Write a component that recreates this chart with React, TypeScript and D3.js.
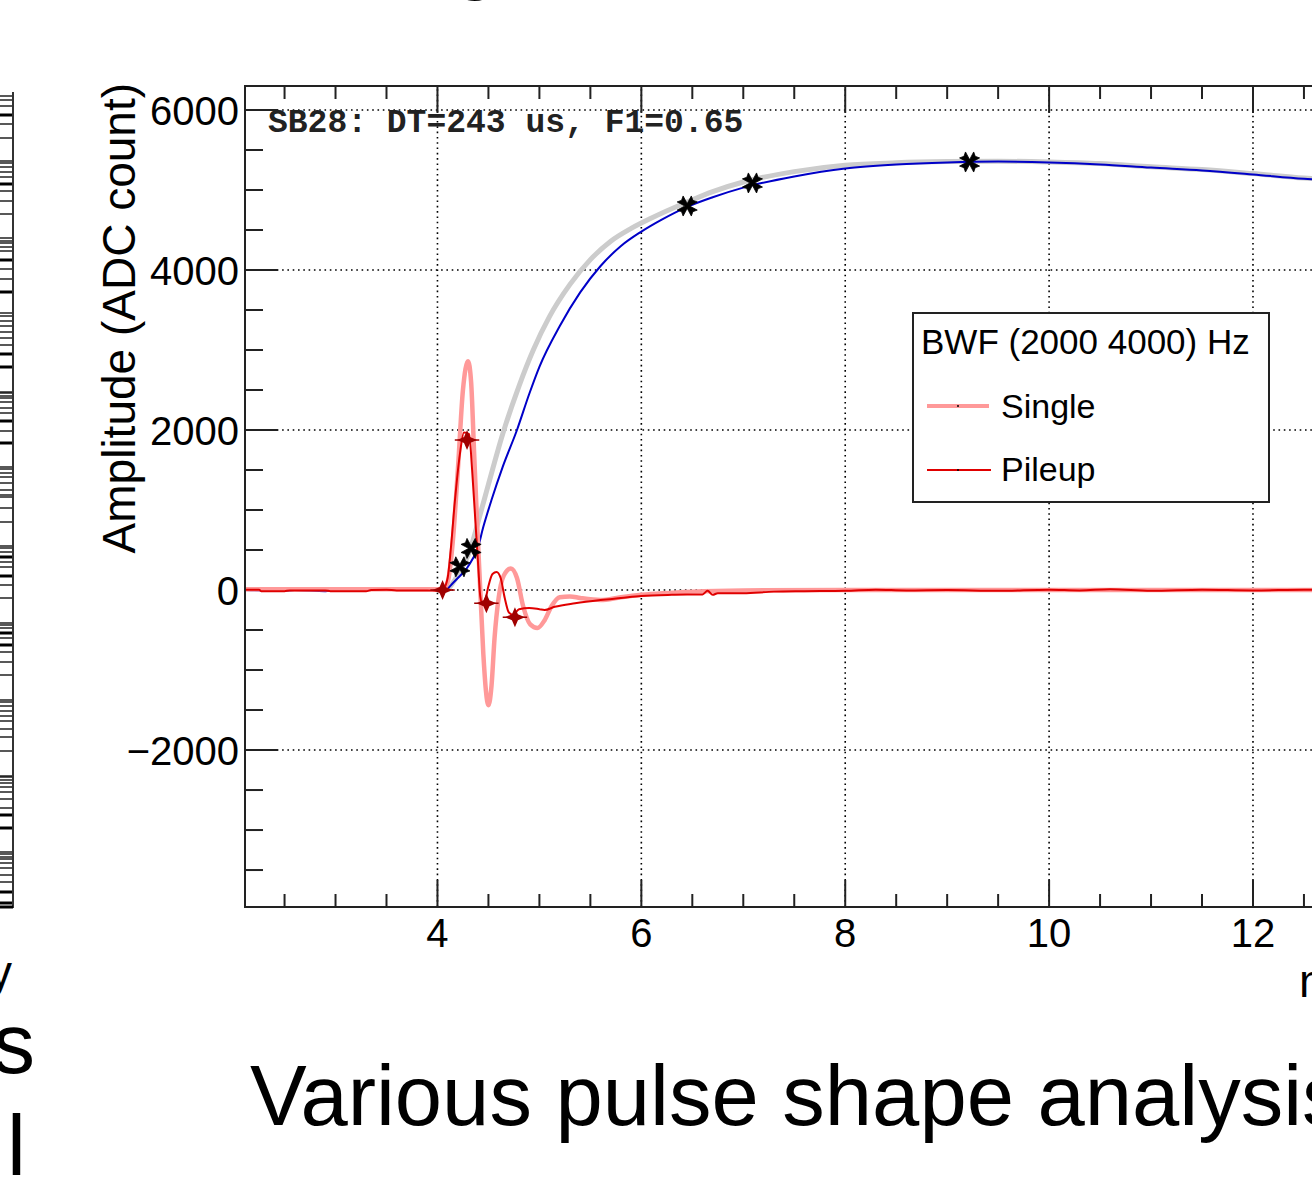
import React from 'react';
import * as d3 from 'd3';

type P = [number, number];

// ---- data (x in time units, y in ADC counts) ----
const xMajorTicks = [4, 6, 8, 10, 12, 14];
const yMajorTicks = [-2000, 0, 2000, 4000, 6000];
const yTickLabels = ['\u22122000', '0', '2000', '4000', '6000'];

const grayFit: P[] = [
  [4.1, 0], [4.17, 125], [4.2, 190], [4.32, 500], [4.42, 950], [4.5, 1320], [4.64, 1950],
  [4.8, 2550], [4.94, 3000], [5.1, 3420], [5.3, 3820], [5.5, 4130], [5.7, 4360], [5.9, 4520],
  [6.1, 4650], [6.45, 4850], [6.7, 4980], [7.0, 5100], [7.5, 5230], [8.0, 5310], [8.5, 5340],
  [9.0, 5355], [9.5, 5360], [10, 5350], [10.5, 5330], [11, 5290], [11.5, 5255], [12, 5205],
  [12.5, 5150], [13, 5115], [13.5, 5075], [14.5, 5000],
];

const bluePulse: P[] = [
  [2.112, 0], [2.5, -10], [2.6, 0], [2.9, -15], [3.0, 0], [4.05, 0], [4.1, 20], [4.15, 85],
  [4.2, 150], [4.29, 275], [4.35, 400], [4.39, 500], [4.45, 790], [4.53, 1125], [4.64, 1540],
  [4.78, 2000], [4.9, 2450], [5.0, 2790], [5.2, 3300], [5.4, 3720], [5.6, 4050], [5.8, 4300],
  [6.0, 4480], [6.2, 4630], [6.45, 4790], [6.7, 4910], [7.0, 5030], [7.5, 5170],
  [8.0, 5270], [8.5, 5320], [9.0, 5345], [9.5, 5355], [10, 5345], [10.5, 5320], [11, 5280],
  [11.5, 5245], [12, 5195], [12.5, 5140], [13, 5110], [13.5, 5070], [14.5, 4990],
];

const singleBWF: P[] = [
  [2.112, 10], [4.05, 10], [4.1, 100], [4.15, 600], [4.2, 1500], [4.25, 2500], [4.3, 2860],
  [4.33, 2600], [4.36, 1700], [4.39, 800], [4.42, 0], [4.45, -800], [4.5, -1440], [4.53, -1200],
  [4.56, -600], [4.6, -100], [4.65, 180], [4.72, 270], [4.78, 150], [4.84, -200], [4.91, -430],
  [4.98, -475], [5.05, -380], [5.12, -200], [5.2, -90], [5.3, -80], [5.4, -100], [5.6, -125],
  [5.8, -90], [6.0, -60], [6.5, -20], [7, -5], [8, 0], [14.5, 0],
];

const pileupBWF: P[] = [
  [2.112, 5], [2.25, 5], [2.27, -15], [2.5, -15], [2.55, -5], [2.9, -5], [2.95, -15], [3.3, -15],
  [3.35, 0], [3.5, 5], [3.6, -5], [3.9, -5], [4.0, -10], [4.05, 0], [4.1, 150], [4.13, 500],
  [4.17, 1100], [4.22, 1700], [4.26, 1970], [4.31, 1950], [4.34, 1500], [4.37, 900], [4.4, 300],
  [4.42, -80], [4.44, -170], [4.47, -120], [4.5, 50], [4.54, 200], [4.58, 225], [4.62, 150],
  [4.66, -100], [4.7, -280], [4.74, -310], [4.8, -240], [4.9, -225], [5.0, -240], [5.05, -250],
  [5.15, -210], [5.35, -165], [5.6, -125], [5.8, -100], [6.0, -75], [6.3, -60], [6.6, -55],
  [6.65, -10], [6.7, -60], [6.75, -40], [7.0, -40], [7.3, -20], [7.6, -15], [8.0, -10], [8.3, 5],
  [8.6, -5], [9.0, 0], [9.5, -10], [10.0, 5], [10.3, -5], [10.6, 10], [11.0, -10], [11.5, 5],
  [12.0, -5], [12.5, 5], [13.0, -5], [13.5, 0], [14.5, 0],
];

const blackMarkers: P[] = [[4.22, 290], [4.33, 520], [6.45, 4800], [7.09, 5088], [9.22, 5350]];
const redMarkers: P[] = [[4.05, 0], [4.29, 1875], [4.48, -165], [4.76, -340]];
const redMarkerXErr = 0.12;

const legendTitle = 'BWF (2000 4000) Hz';
const legendEntries = ['Single', 'Pileup'];
const infoText = 'SB28: DT=243 us, F1=0.65';
const yTitle = 'Amplitude (ADC count)';
const xTitle = 'ms';
const bottomTitle = 'Various pulse shape analysis';

// rows of a neighbouring (cropped) panel on the left edge
const leftPanelThin = [
  96, 100, 106, 124, 138, 161, 163, 167, 172, 177, 191, 201, 214, 238, 241, 243, 247, 251, 269, 279,
  313, 316, 321, 326, 332, 338, 345, 392, 393, 396, 398, 402, 408, 413, 431, 467, 469, 473, 477, 483,
  490, 495, 497, 508, 522, 546, 548, 552, 562, 567, 585, 598, 623, 625, 628, 638, 652, 662, 675, 700,
  702, 706, 711, 716, 721, 729, 737, 751, 776, 777, 780, 783, 787, 792, 799, 808, 852, 854, 857, 859,
  863, 868, 875, 882,
];
const leftPanelThick = [115, 184, 260, 292, 354, 367, 421, 443, 557, 576, 633, 645, 815, 828, 892, 903];

const W = 1312;
const H = 1193;

function xMarkerPath(r: number) {
  const w = r * 0.42;
  let p = '';
  [[1, 1], [1, -1], [-1, 1], [-1, -1]].forEach(([dx, dy]) => {
    const ux = dx / Math.SQRT2, uy = dy / Math.SQRT2;
    const px = -uy, py = ux;
    const tx = ux * r, ty = uy * r;
    p += `M${px * 1.2},${py * 1.2}L${tx + px * w},${ty + py * w}L${tx * 0.8},${ty * 0.8}L${tx - px * w},${ty - py * w}L${-px * 1.2},${-py * 1.2}Z`;
  });
  return p;
}

function starPath(r: number) {
  const i = r * 0.3;
  return `M0,${-r}L${i},${-i}L${r},0L${i},${i}L0,${r}L${-i},${i}L${-r},0L${-i},${-i}Z`;
}

export default function App() {
  const xLeft = 245;
  const pxPerUnit = 101.94;
  const xDom: [number, number] = [2.112, 14.5];
  const x = d3.scaleLinear().domain(xDom).range([xLeft, xLeft + (xDom[1] - xDom[0]) * pxPerUnit]);
  const y = d3.scaleLinear().domain([-3962, 6300]).range([907, 86]);
  const leftRows = d3.scaleLinear().domain([0, H]).range([0, H]);

  const line = d3.line<P>().x(d => x(d[0])).y(d => y(d[1])).curve(d3.curveMonotoneX);

  const [x0, x1] = x.range();
  const [yb, yt] = y.range();

  const xMinor = d3.range(2.5, 14.5001, 0.5).filter(v => !xMajorTicks.some(m => Math.abs(m - v) < 1e-6));
  const yMinor = d3.range(-3500, 6001, 500).filter(v => !yMajorTicks.includes(v));

  const sans = 'Liberation Sans, Arial, Helvetica, sans-serif';

  const xm = xMarkerPath(10);
  const sm = starPath(10);

  return (
    <svg width={W} height={H} style={{ position: 'absolute', left: 0, top: 0, background: '#fff' }}
      xmlns="http://www.w3.org/2000/svg">
      <rect x={0} y={0} width={W} height={H} fill="#fff" />

      {/* cropped title glyph at top */}
      <text x={452} y={-17} fontFamily={sans} fontSize={85} fill="#000">g</text>

      {/* cropped neighbouring panel on the left */}
      <g>
        {leftPanelThin.map((v, i) => (
          <line key={'lt' + i} x1={0} x2={13} y1={leftRows(v)} y2={leftRows(v)} stroke="#111" strokeWidth={1.4} />
        ))}
        {leftPanelThick.map((v, i) => (
          <line key={'lk' + i} x1={0} x2={13} y1={leftRows(v)} y2={leftRows(v)} stroke="#000" strokeWidth={3} />
        ))}
        <line x1={13} x2={13} y1={leftRows(92)} y2={leftRows(908)} stroke="#333" strokeWidth={2} />
        <line x1={0} x2={13} y1={leftRows(907)} y2={leftRows(907)} stroke="#000" strokeWidth={3} />
      </g>
      <text x={12} y={988} textAnchor="end" fontFamily={sans} fontSize={46} fill="#000">y</text>
      <text x={35} y={1073} textAnchor="end" fontFamily={sans} fontSize={85} fill="#000">s</text>
      <text x={7} y={1175} fontFamily={sans} fontSize={85} fill="#000">l</text>

      {/* grid */}
      <g stroke="#000" strokeWidth={1.6} strokeDasharray="1.6,3.7">
        {xMajorTicks.map(t => (
          <line key={'gx' + t} x1={x(t)} x2={x(t)} y1={yb} y2={yt} />
        ))}
        {yMajorTicks.map(t => (
          <line key={'gy' + t} x1={x0} x2={x1} y1={y(t)} y2={y(t)} />
        ))}
      </g>

      {/* ticks */}
      <g stroke="#222" strokeWidth={2}>
        {xMajorTicks.map(t => (
          <g key={'tx' + t}>
            <line x1={x(t)} x2={x(t)} y1={yb} y2={yb - 27} />
            <line x1={x(t)} x2={x(t)} y1={yt} y2={yt + 27} />
          </g>
        ))}
        {xMinor.map(t => (
          <g key={'mx' + t}>
            <line x1={x(t)} x2={x(t)} y1={yb} y2={yb - 13} />
            <line x1={x(t)} x2={x(t)} y1={yt} y2={yt + 13} />
          </g>
        ))}
        {yMajorTicks.map(t => (
          <line key={'ty' + t} x1={x0} x2={x0 + 33} y1={y(t)} y2={y(t)} />
        ))}
        {yMinor.map(t => (
          <line key={'my' + t} x1={x0} x2={x0 + 18} y1={y(t)} y2={y(t)} />
        ))}
      </g>

      {/* curves */}
      <path d={line(grayFit) || ''} fill="none" stroke="#cccccc" strokeWidth={5} />
      <path d={line(bluePulse) || ''} fill="none" stroke="#0000c8" strokeWidth={2} />
      <path d={line(singleBWF) || ''} fill="none" stroke="#ff9999" strokeWidth={4.5} />
      <path d={line(pileupBWF) || ''} fill="none" stroke="#e00000" strokeWidth={2} />

      {/* markers */}
      {redMarkers.map((d, i) => (
        <g key={'rm' + i} transform={`translate(${x(d[0])},${y(d[1])})`}>
          <line x1={x(d[0] - redMarkerXErr) - x(d[0])} x2={x(d[0] + redMarkerXErr) - x(d[0])} y1={0} y2={0}
            stroke="#a00000" strokeWidth={1.5} />
          <path d={sm} fill="#a00000" />
        </g>
      ))}
      {blackMarkers.map((d, i) => (
        <path key={'bm' + i} d={xm} transform={`translate(${x(d[0])},${y(d[1])})`} fill="#000" stroke="#000" strokeWidth={0.8} />
      ))}

      {/* frame */}
      <rect x={x0} y={yt} width={x1 - x0} height={yb - yt} fill="none" stroke="#222" strokeWidth={2} />

      {/* tick labels */}
      <g fontFamily={sans} fontSize={40} fill="#000">
        {xMajorTicks.map(t => (
          <text key={'lx' + t} x={x(t)} y={947} textAnchor="middle">{t}</text>
        ))}
        {yMajorTicks.map((t, i) => (
          <text key={'ly' + t} x={239} y={y(t) + 14.5} textAnchor="end">{yTickLabels[i]}</text>
        ))}
      </g>

      {/* axis titles */}
      <text transform="translate(135,83) rotate(-90)" textAnchor="end" fontFamily={sans} fontSize={46} fill="#000">{yTitle}</text>
      <text x={1299} y={997} fontFamily={sans} fontSize={46} fill="#000">{xTitle}</text>

      {/* info text */}
      <text x={268} y={132} fontFamily="Liberation Mono, Courier New, monospace" fontWeight="bold" fontSize={33} fill="#222">{infoText}</text>

      {/* legend */}
      <g>
        <rect x={913} y={313} width={356} height={189} fill="#fff" stroke="#222" strokeWidth={2} />
        <text x={921} y={354} fontFamily={sans} fontSize={35} fill="#000">{legendTitle}</text>
        <line x1={927} x2={989} y1={406} y2={406} stroke="#ff9999" strokeWidth={4} />
        <circle cx={958} cy={406} r={1} fill="#000" />
        <text x={1001} y={418} fontFamily={sans} fontSize={34} fill="#000">{legendEntries[0]}</text>
        <line x1={927} x2={991} y1={470} y2={470} stroke="#e00000" strokeWidth={2} />
        <circle cx={958} cy={470} r={1} fill="#000" />
        <text x={1001} y={481} fontFamily={sans} fontSize={34} fill="#000">{legendEntries[1]}</text>
      </g>

      {/* bottom slide title */}
      <text x={250} y={1125} fontFamily={sans} fontSize={85} fill="#000">{bottomTitle}</text>
    </svg>
  );
}
